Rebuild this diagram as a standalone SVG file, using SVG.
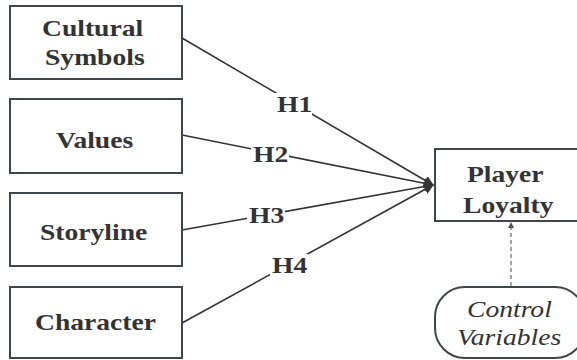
<svg xmlns="http://www.w3.org/2000/svg" width="577" height="360" viewBox="0 0 577 360" font-family="Liberation Serif, Times New Roman, serif">
<defs>
<marker id="ah" markerWidth="10" markerHeight="10" refX="9" refY="5" orient="auto" markerUnits="userSpaceOnUse">
<path d="M0,0 L10,5 L0,10 Z" fill="#333"/>
</marker>
<marker id="ah2" markerWidth="6" markerHeight="6" refX="5" refY="3" orient="auto" markerUnits="userSpaceOnUse">
<path d="M0,0 L6,3 L0,6 Z" fill="#555"/>
</marker>
</defs>
<g id="connectors" stroke="#333" stroke-width="1.6" fill="none">
<line x1="182" y1="38" x2="433" y2="185" marker-end="url(#ah)"/>
<line x1="182" y1="135" x2="433" y2="185" marker-end="url(#ah)"/>
<line x1="182" y1="230" x2="433" y2="185" marker-end="url(#ah)"/>
<line x1="182" y1="323" x2="433" y2="185" marker-end="url(#ah)"/>
<line x1="511" y1="286" x2="511" y2="223" stroke="#666" stroke-width="1.2" stroke-dasharray="4,3" marker-end="url(#ah2)"/>
</g>
<g id="labels">
<rect x="275" y="93" width="37" height="23" fill="#fff"/>
<text transform="translate(277,112) scale(1.2,1)" font-family="Liberation Serif, Times New Roman, serif" font-weight="bold" font-size="23" fill="#333">H1</text>
<rect x="251" y="143" width="38" height="23" fill="#fff"/>
<text transform="translate(253,162) scale(1.2,1)" font-family="Liberation Serif, Times New Roman, serif" font-weight="bold" font-size="23" fill="#333">H2</text>
<rect x="247" y="204" width="38" height="23" fill="#fff"/>
<text transform="translate(249,223) scale(1.2,1)" font-family="Liberation Serif, Times New Roman, serif" font-weight="bold" font-size="23" fill="#333">H3</text>
<rect x="270" y="254" width="38" height="23" fill="#fff"/>
<text transform="translate(272,273) scale(1.2,1)" font-family="Liberation Serif, Times New Roman, serif" font-weight="bold" font-size="23" fill="#333">H4</text>
</g>
<g id="cultural">
<rect x="10" y="6" width="172" height="73" fill="#fff" stroke="#41464d" stroke-width="2"/>
<text transform="translate(42,36) scale(1.2,1)" font-family="Liberation Serif, Times New Roman, serif" font-weight="bold" font-size="23" fill="#333">Cultural</text>
<text transform="translate(45,65) scale(1.2,1)" font-family="Liberation Serif, Times New Roman, serif" font-weight="bold" font-size="23" fill="#333">Symbols</text>
</g>
<g id="values">
<rect x="10" y="99" width="172" height="74" fill="#fff" stroke="#41464d" stroke-width="2"/>
<text transform="translate(56,148) scale(1.2,1)" font-family="Liberation Serif, Times New Roman, serif" font-weight="bold" font-size="23" fill="#333">Values</text>
</g>
<g id="storyline">
<rect x="10" y="193" width="172" height="73" fill="#fff" stroke="#41464d" stroke-width="2"/>
<text transform="translate(40,240) scale(1.2,1)" font-family="Liberation Serif, Times New Roman, serif" font-weight="bold" font-size="23" fill="#333">Storyline</text>
</g>
<g id="character">
<rect x="10" y="287" width="172" height="71" fill="#fff" stroke="#41464d" stroke-width="2"/>
<text transform="translate(35,330) scale(1.2,1)" font-family="Liberation Serif, Times New Roman, serif" font-weight="bold" font-size="23" fill="#333">Character</text>
</g>
<g id="loyalty">
<rect x="435" y="149" width="143" height="72" fill="#fff" stroke="#41464d" stroke-width="2"/>
<text transform="translate(467,182) scale(1.2,1)" font-family="Liberation Serif, Times New Roman, serif" font-weight="bold" font-size="23" fill="#333">Player</text>
<text transform="translate(463,213) scale(1.2,1)" font-family="Liberation Serif, Times New Roman, serif" font-weight="bold" font-size="23" fill="#333">Loyalty</text>
</g>
<g id="control">
<rect x="435" y="287" width="150" height="71" rx="30" ry="30" fill="#fff" stroke="#41464d" stroke-width="2"/>
<text transform="translate(467,317) scale(1.2,1)" font-family="Liberation Serif, Times New Roman, serif" font-style="italic" font-size="23" fill="#333">Control</text>
<text transform="translate(457,345) scale(1.2,1)" font-family="Liberation Serif, Times New Roman, serif" font-style="italic" font-size="23" fill="#333">Variables</text>
</g>
</svg>
